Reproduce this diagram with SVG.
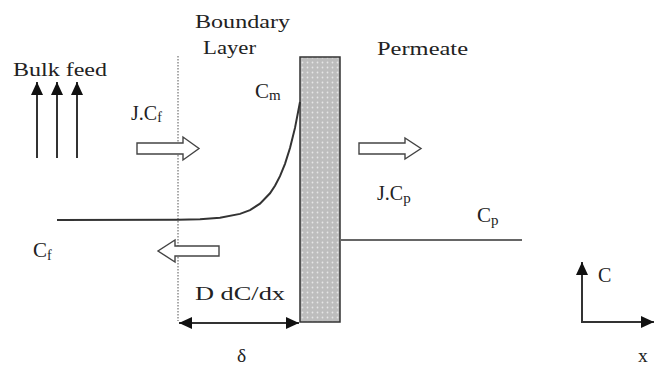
<svg xmlns="http://www.w3.org/2000/svg" width="654" height="367" viewBox="0 0 654 367">
<style>
  .line { fill: none; stroke: #333; stroke-width: 2; }
  .open { fill: #fff; stroke: #444; stroke-width: 1.4; stroke-linejoin: miter; }
</style>
<defs>
  <pattern id="dots" width="5" height="5" patternUnits="userSpaceOnUse">
    <rect width="5" height="5" fill="#bdbdbd"/>
    <circle cx="2.5" cy="2.5" r="0.9" fill="#e6e6e6"/>
  </pattern>
  <marker id="ah" markerUnits="userSpaceOnUse" markerWidth="14" markerHeight="12" refX="13" refY="6" orient="auto">
    <path d="M0,0 L13,6 L0,12 Z" fill="#111"/>
  </marker>
  <marker id="ahs" markerUnits="userSpaceOnUse" markerWidth="14" markerHeight="12" refX="13" refY="6" orient="auto-start-reverse">
    <path d="M0,0 L13,6 L0,12 Z" fill="#111"/>
  </marker>
</defs>
<rect width="654" height="367" fill="#fff"/>

<g id="membrane">
  <rect x="300" y="57" width="40" height="265" fill="url(#dots)" stroke="#333" stroke-width="1.5"/>
</g>

<g id="boundary-line">
  <line x1="178" y1="56" x2="178" y2="321" stroke="#555" stroke-width="1" stroke-dasharray="1.5,1.5"/>
</g>

<g id="profile">
  <path class="line" stroke-width="1.8" d="M57,220 L178,219.7 L200,219.2 L220,217.8 L240,213.9 L250,210.1 L260,203.7 L270,193.3 L275,185.8 L280,176.2 L285,163.8 L290,148.1 L295,127.9 L300,102"/>
  <line x1="340" y1="240" x2="522" y2="240" stroke="#666" stroke-width="2"/>
</g>

<g id="connectors">
  <line class="line" x1="37" y1="158" x2="37" y2="82" marker-end="url(#ah)"/>
  <line class="line" x1="57" y1="158" x2="57" y2="82" marker-end="url(#ah)"/>
  <line class="line" x1="77" y1="158" x2="77" y2="82" marker-end="url(#ah)"/>
  <line class="line" x1="179" y1="323" x2="299" y2="323" marker-start="url(#ahs)" marker-end="url(#ahs)"/>
  <polyline class="line" points="582,262 582,322 654,322" marker-start="url(#ahs)" marker-end="url(#ahs)"/>
</g>

<g id="flux-arrows">
  <polygon class="open" points="137,143 183,143 183,137 199,148.5 183,160 183,154 137,154"/>
  <polygon class="open" points="359,143 405,143 405,138 421,148.5 405,159 405,154 359,154"/>
  <polygon class="open" points="219,246 175,246 175,240 158,251 175,262 175,256 219,256"/>
</g>

<g id="labels" font-family="'Liberation Serif', serif" font-size="19.5" fill="#222">
  <text x="13" y="76" textLength="94" lengthAdjust="spacingAndGlyphs">Bulk feed</text>
  <text x="195" y="28" textLength="95" lengthAdjust="spacingAndGlyphs">Boundary</text>
  <text x="203" y="54" textLength="53" lengthAdjust="spacingAndGlyphs">Layer</text>
  <text x="377" y="55" textLength="91" lengthAdjust="spacingAndGlyphs">Permeate</text>
  <text x="255" y="98" font-size="21">C<tspan font-size="15" dy="2">m</tspan></text>
  <text x="131" y="120" font-size="20">J.C<tspan font-size="14" dy="2">f</tspan></text>
  <text x="33" y="257" font-size="21">C<tspan font-size="14" dy="3">f</tspan></text>
  <text x="377" y="200" font-size="20">J.C<tspan font-size="15" dy="3">p</tspan></text>
  <text x="477" y="222" font-size="21">C<tspan font-size="15" dy="3">p</tspan></text>
  <text x="195" y="300" textLength="90" lengthAdjust="spacingAndGlyphs">D dC/dx</text>
  <text x="237" y="362">δ</text>
  <text x="598" y="282" font-size="20">C</text>
  <text x="638" y="362">x</text>
</g>
</svg>
